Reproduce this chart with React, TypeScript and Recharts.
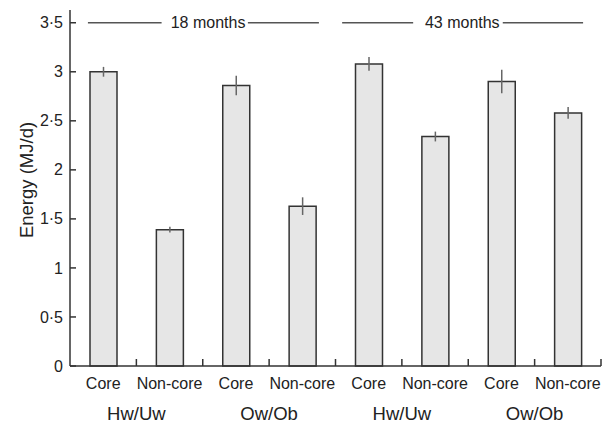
import React from 'react';
import { BarChart, Bar, XAxis, YAxis, ErrorBar, ReferenceLine } from 'recharts';

const categories = ['Core', 'Non-core', 'Core', 'Non-core', 'Core', 'Non-core', 'Core', 'Non-core'];
const groups = ['Hw/Uw', 'Ow/Ob', 'Hw/Uw', 'Ow/Ob'];
const periods = ['18 months', '43 months'];
const energy = [3.0, 1.39, 2.86, 1.63, 3.08, 2.34, 2.9, 2.58];
const sem = [0.05, 0.03, 0.1, 0.09, 0.07, 0.05, 0.12, 0.06];
const yTicks = [0, 0.5, 1, 1.5, 2, 2.5, 3, 3.5];

const W = 602;
const H = 423;
const MARGIN = { top: 10, right: 1, left: 0, bottom: 0 };
const Y_W = 70;
const BAND = (W - Y_W - MARGIN.right - MARGIN.left) / categories.length;
const FONT = '"Liberation Sans", Arial, Helvetica, sans-serif';
const INK = '#222';

const data = categories.map((c, i) => ({ id: `c${i}`, label: c, energy: energy[i], sem: sem[i] }));

// header brackets, in band units from the left of the plot
const brackets = [
  { l1: [0.27, 1.38], text: 2.08, l2: [2.68, 3.75] },
  { l1: [4.1, 5.17], text: 5.91, l2: [6.52, 7.73] },
];

const fmt = (v: number) => String(v).replace('.', '·');

const YTick = (props: any) => {
  const { x, y, payload } = props;
  return (
    <g>
      <line x1={x} x2={x + 6} y1={y} y2={y} stroke="#333" strokeWidth={1.5} />
      <text x={x - 7} y={y} dy="0.35em" textAnchor="end" fontSize={16} fill={INK} fontFamily={FONT}>
        {fmt(payload.value)}
      </text>
    </g>
  );
};

const XTick = (props: any) => {
  const { x, y, index } = props;
  const right = x + BAND / 2;
  return (
    <g>
      <line x1={right} x2={right} y1={y} y2={y - 7} stroke="#333" strokeWidth={1.5} />
      <text x={x} y={y + 23} textAnchor="middle" fontSize={16} fill={INK} fontFamily={FONT}>
        {categories[index]}
      </text>
      {index % 2 === 1 && (
        <text x={x - BAND / 2} y={y + 54} textAnchor="middle" fontSize={18.5} fill={INK} fontFamily={FONT}>
          {groups[(index - 1) / 2]}
        </text>
      )}
    </g>
  );
};

const Brackets = (props: any) => {
  const { x1, y1 } = props;
  const px = (u: number) => x1 + u * BAND;
  return (
    <g>
      {brackets.map((b, i) => (
        <g key={i}>
          <line x1={px(b.l1[0])} x2={px(b.l1[1])} y1={y1} y2={y1} stroke="#555" strokeWidth={1.3} />
          <line x1={px(b.l2[0])} x2={px(b.l2[1])} y1={y1} y2={y1} stroke="#555" strokeWidth={1.3} />
          <text x={px(b.text)} y={y1} dy="0.35em" textAnchor="middle" fontSize={16} fill={INK} fontFamily={FONT}>
            {periods[i]}
          </text>
        </g>
      ))}
    </g>
  );
};

export default function App() {
  return (
    <div style={{ width: W, height: H, background: '#fff', position: 'relative' }}>
      <style>{'body{margin:0}'}</style>
      <BarChart width={W} height={H} data={data} margin={MARGIN}>
        <XAxis
          dataKey="id"
          interval={0}
          height={57}
          tickSize={0}
          tickMargin={0}
          tickLine={false}
          axisLine={{ stroke: '#333', strokeWidth: 1.5 }}
          tick={<XTick />}
        />
        <YAxis
          width={Y_W}
          domain={[0, 3.63]}
          ticks={yTicks}
          tickSize={0}
          tickMargin={0}
          tickLine={false}
          axisLine={{ stroke: '#333', strokeWidth: 1.5 }}
          tick={<YTick />}
        />
        <Bar
          dataKey="energy"
          barSize={27}
          fill="#e6e6e6"
          stroke="#333"
          strokeWidth={1.5}
          isAnimationActive={false}
        >
          <ErrorBar dataKey="sem" width={0} stroke="#666" strokeWidth={1.5} direction="y" isAnimationActive={false} />
        </Bar>
        <ReferenceLine y={3.5} stroke="none" shape={Brackets} />
      </BarChart>
      <svg width={60} height={H} style={{ position: 'absolute', left: 0, top: 0, pointerEvents: 'none' }}>
        <text
          transform="translate(33,180) rotate(-90)"
          textAnchor="middle"
          fontSize={18.5}
          fill={INK}
          fontFamily={FONT}
        >
          Energy (MJ/d)
        </text>
      </svg>
    </div>
  );
}
